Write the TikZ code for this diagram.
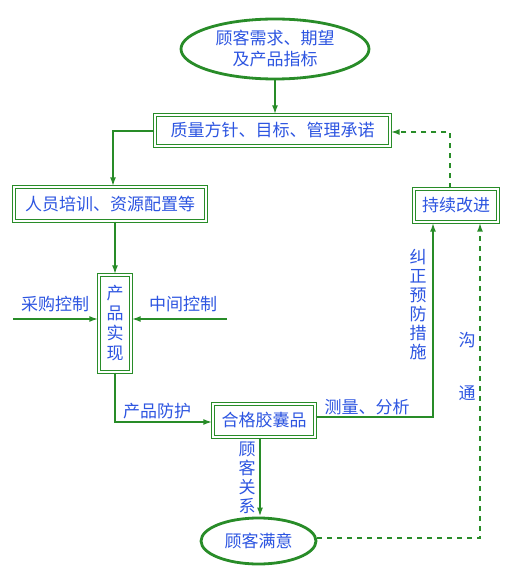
\documentclass[tikz,border=0pt]{standalone}
\usepackage{fontspec}
\setmainfont{Noto Sans CJK SC}
\usetikzlibrary{arrows.meta,shapes.geometric}
\definecolor{lg}{RGB}{40,140,40}
\definecolor{tb}{RGB}{45,85,225}
\begin{document}
\begin{tikzpicture}[x=1pt,y=-1pt,
  every node/.style={text=tb,font=\fontsize{17}{20}\selectfont},
  box/.style={draw=lg,double=white,line width=1.4pt,double distance=1.8pt,inner sep=0pt,align=center},
  oval/.style={ellipse,draw=lg,line width=2.8pt,inner sep=0pt,align=center},
  ln/.style={draw=lg,line width=1.9pt,-{Latex[length=9pt,width=6pt]}},
  dl/.style={ln,dash pattern=on 5pt off 5pt},
  lab/.style={inner sep=0pt,align=center},
  vlab/.style={inner sep=0pt,align=center,font=\fontsize{17}{19}\selectfont}]
\useasboundingbox[fill=white] (0,0) rectangle (522,569);

\node[oval,minimum width=188pt,minimum height=60pt,font=\fontsize{17}{21}\selectfont] (e1) at (275,49) {顾客需求、期望\\及产品指标};
\node[box,minimum width=235pt,minimum height=31pt] (b1) at (272.5,130.5) {质量方针、目标、管理承诺};
\node[box,minimum width=192pt,minimum height=34pt] (b2) at (110,204) {人员培训、资源配置等};
\node[box,minimum width=32pt,minimum height=97pt] (b3) at (115,323.5) {产\\品\\实\\现};
\node[box,minimum width=102pt,minimum height=33pt] (b4) at (264,420.5) {合格胶囊品};
\node[box,minimum width=84pt,minimum height=33pt] (b5) at (456,205.5) {持续改进};
\node[oval,minimum width=115pt,minimum height=46pt] (e2) at (258.5,541) {顾客满意};

\coordinate (c1) at (113,131);
\coordinate (p1) at (13,319);
\coordinate (p2) at (227,319);
\coordinate (c2) at (115,422);
\coordinate (c3) at (433,417);
\coordinate (c4) at (450,132);
\coordinate (c5) at (480,538);

\draw[ln] (e1.south) -- (b1.north -| e1.south);
\draw[ln] (b1.west |- c1) -- (c1) -- (c1 |- b2.north);
\draw[ln] (b2.south -| b3.north) -- (b3.north);
\draw[ln] (p1) -- (b3.west |- p1);
\draw[ln] (p2) -- (b3.east |- p2);
\draw[ln] (b3.south) -- (c2) -- (b4.west |- c2);
\draw[ln] (b4.east |- c3) -- (c3) -- (c3 |- b5.south);
\draw[dl] (b5.north -| c4) -- (c4) -- (b1.east |- c4);
\draw[ln] (b4.south -| 260,0) -- (e2.north -| 260,0);
\draw[dl] (e2.east |- c5) -- (c5) -- (c5 |- b5.south);

\node[lab] (t1) at (55,304) {采购控制};
\node[lab] (t2) at (183,304) {中间控制};
\node[lab] (t3) at (157,411) {产品防护};
\node[lab] (t4) at (367,407) {测量、分析};
\node[vlab] (t5) at (418,305) {纠\\正\\预\\防\\措\\施};
\node[vlab] (t6) at (247,478) {顾\\客\\关\\系};
\node[lab] (t7) at (467,340) {沟};
\node[lab] (t8) at (467,393) {通};
\end{tikzpicture}
\end{document}
